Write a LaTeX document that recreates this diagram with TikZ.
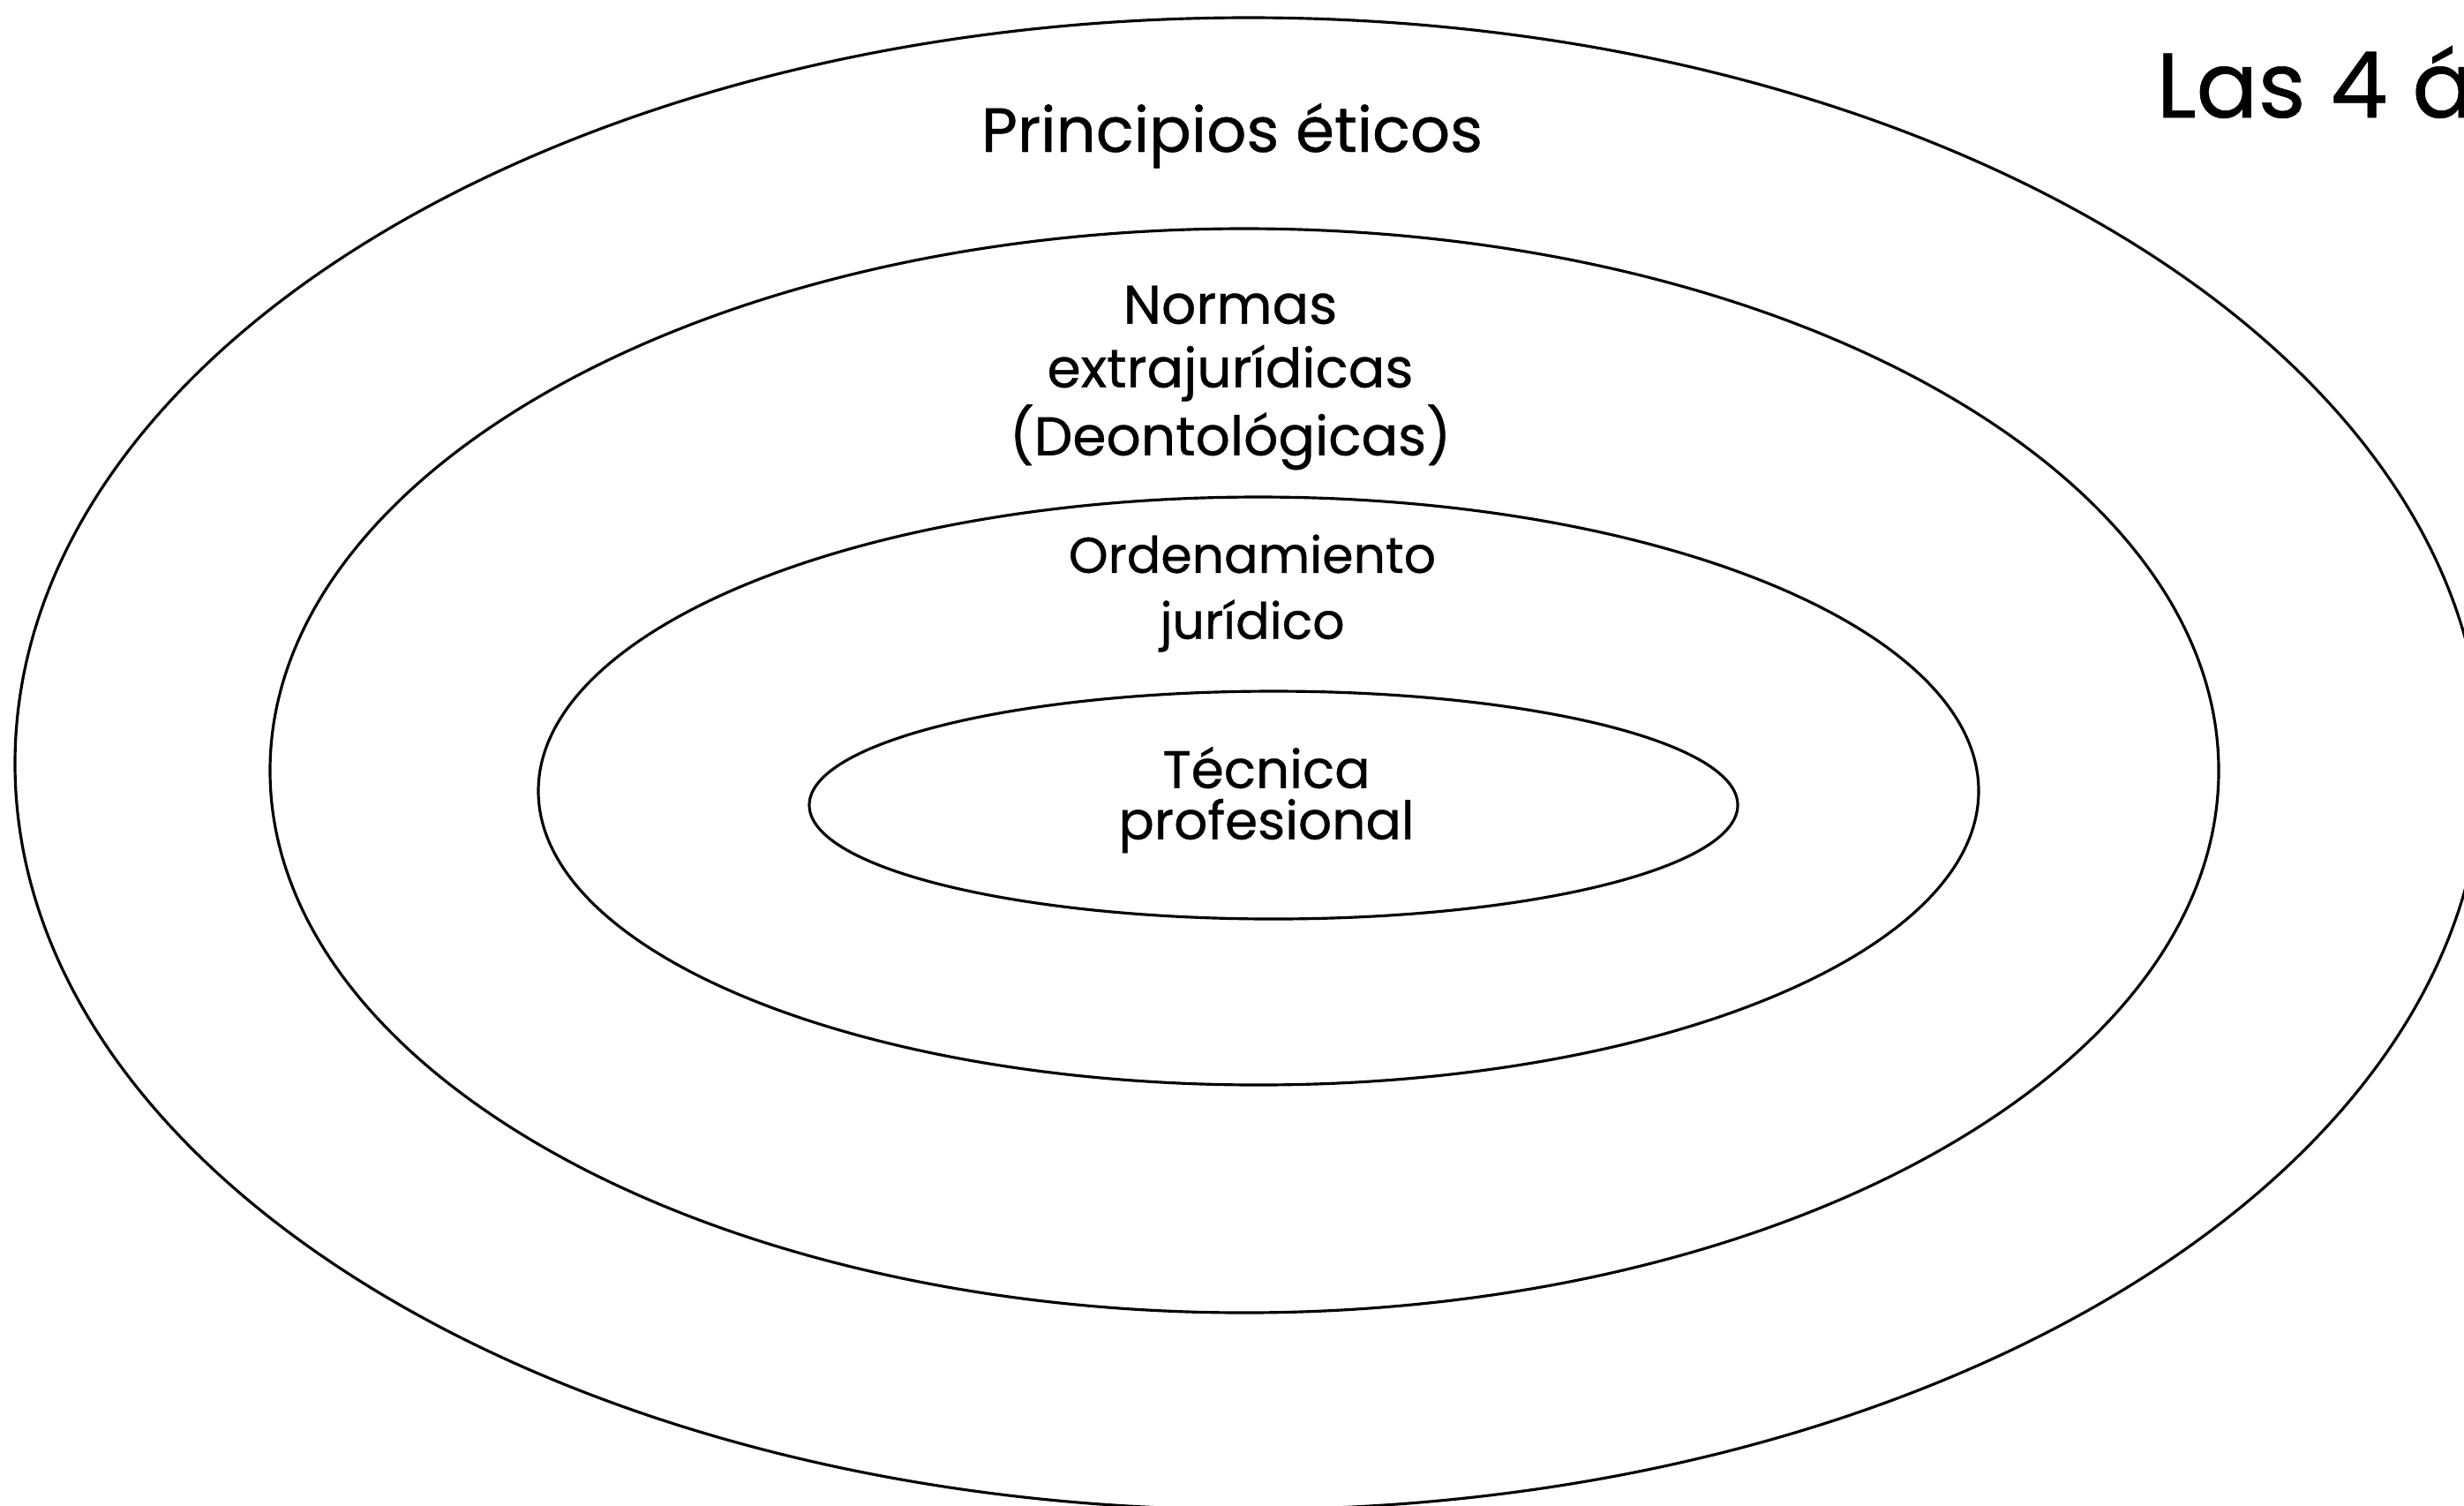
\documentclass[tikz,border=0pt]{standalone}
\usepackage{fontspec}
\setmainfont{Poppins}[FakeBold=0.6]
\usetikzlibrary{shapes.geometric}
\begin{document}
\begin{tikzpicture}[
  ring/.style={draw=black, line width=0.9pt, ellipse, inner sep=0pt, fill=none},
  lbl/.style={align=center, inner sep=0pt, text=black}
]
\useasboundingbox (0,0) rectangle (27.92,-17.05);
\fill[white] (0,0) rectangle (27.92,-17.05);
% rings
\node[ring, minimum width=27.96cm, minimum height=16.90cm] (outer) at (14.15,-8.65) {};
\node[ring, minimum width=22.08cm, minimum height=12.28cm] (norms) at (14.10,-8.73) {};
\node[ring, minimum width=16.32cm, minimum height=6.66cm] (legal) at (14.26,-8.96) {};
\node[ring, minimum width=10.52cm, minimum height=2.58cm] (tech) at (14.43,-9.12) {};
% labels
\node[lbl, anchor=base, font=\fontsize{20.1}{24}\selectfont] (tprin) at (13.96,-1.72) {Principios éticos};
\node[lbl, font=\fontsize{17.5}{20.5}\selectfont] (tnorm) at (13.94,-4.28) {Normas\\extrajurídicas\\(Deontológicas)};
\node[lbl, font=\fontsize{16.2}{21.3}\selectfont] (tord) at (14.19,-6.72) {Ordenamiento\\jurídico};
\node[lbl, font=\fontsize{17}{16.5}\selectfont] (ttec) at (14.35,-9.06) {Técnica\\profesional};
\node[lbl, anchor=base west, font=\fontsize{29.5}{36}\selectfont] (title) at (24.43,-1.33) {Las 4 á};
\end{tikzpicture}
\end{document}
